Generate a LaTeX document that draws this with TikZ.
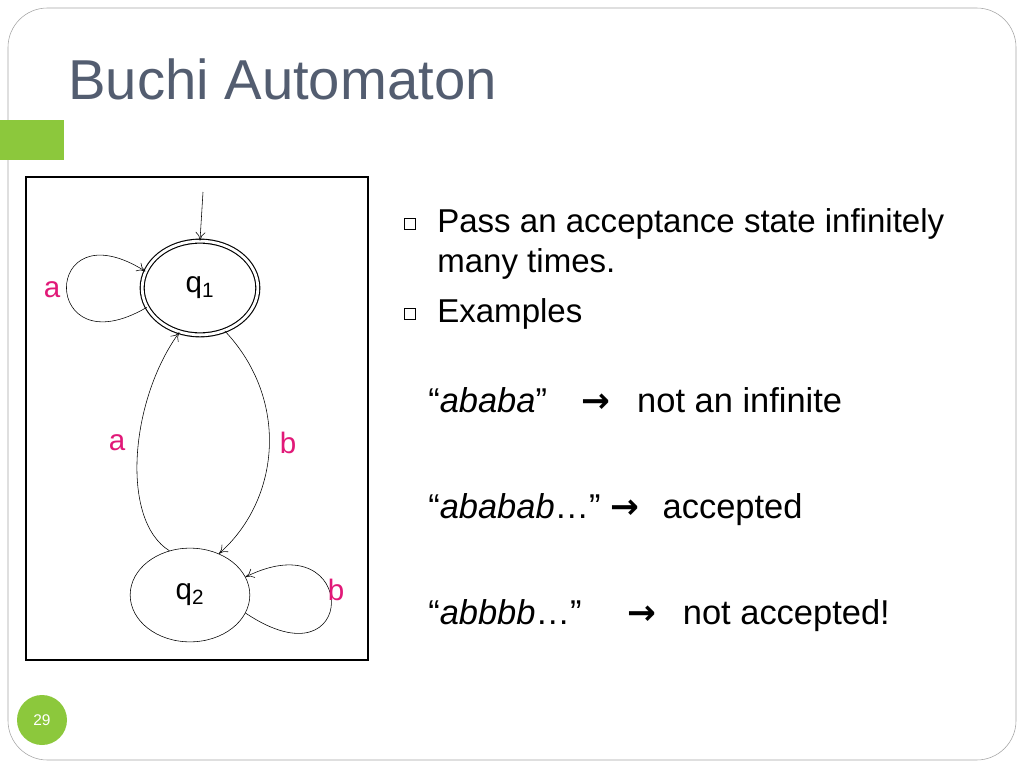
\documentclass[tikz,border=0pt]{standalone}
\usepackage{fontspec}
\setmainfont{Liberation Sans}
\newfontfamily\symf{DejaVu Sans}
\usetikzlibrary{arrows.meta,shapes.geometric}
\definecolor{ttl}{RGB}{83,93,112}
\definecolor{grn}{RGB}{140,200,60}
\definecolor{pnk}{RGB}{225,25,120}
\newlength\pgfmultx \pgfmultx=0.709pt
\newlength\pgfmulty \pgfmulty=0.709pt
\tikzset{
 st/.style={draw,ellipse,minimum width=116\pgfmultx,minimum height=94\pgfmulty,font=\fontsize{21}{21}\selectfont},
 lbl/.style={text=pnk,font=\fontsize{21}{21}\selectfont},
 edge/.style={-{To[length=6pt,width=7pt]},thin},
 txt/.style={anchor=base west,inner sep=0,font=\fontsize{23.5}{26}\selectfont},
 bul/.style={draw,minimum size=8pt,inner sep=0pt,thin}
}
\begin{document}
\begin{tikzpicture}[x=0.025cm,y=-0.025cm]
\useasboundingbox (0,0) rectangle (1024,768);
\fill[white] (0,0) rectangle (1024,768);
\draw[gray!70,rounded corners=28] (8,8) rectangle (1016,760);
\node[anchor=base west,text=ttl,font=\fontsize{40}{40}\selectfont,inner sep=0] (title) at (68,100) {Buchi Automaton};
\fill[grn] (0,120) rectangle (64,160);
\draw[thick] (26,177) rectangle (368,660);
\node[st,double,double distance=2pt,thick,draw=black] (q1) at (200,288) {q\textsubscript{1}};
\node[st,minimum width=120\pgfmultx] (q2) at (190,595) {q\textsubscript{2}};
\coordinate (init) at (203,192);
\draw[edge] (init) -- (q1.north);
\draw[edge] (q1.200) .. controls (40,370) and (40,205) .. (q1.163);
\draw[edge] (q1.300) .. controls (290,400) and (280,500) .. (q2.55);
\draw[edge] (q2.115) .. controls (120,520) and (130,400) .. (q1.245);
\draw[edge] (q2.-18) .. controls (360,690) and (360,520) .. (q2.18);
\node[lbl] (la1) at (52,290) {a};
\node[lbl] (la2) at (117,443) {a};
\node[lbl] (lb1) at (288,443) {b};
\node[lbl] (lb2) at (336,590) {b};
\node[bul] (b1) at (410,224) {};
\node[bul] (b2) at (410,314) {};
\node[txt] (t1) at (437,232) {Pass an acceptance state infinitely};
\node[txt] (t2) at (437,272) {many times.};
\node[txt] (t3) at (437,322) {Examples};
\node[txt] (e1) at (428,412) {\fontsize{24.5}{26}\selectfont “\textit{ababa}” \hspace{18pt}{\symf\bfseries →}\hspace{12pt} not an infinite};
\node[txt] (e2) at (428,518) {\fontsize{24.5}{26}\selectfont “\textit{ababab}…” {\symf\bfseries →}\hspace{10pt} accepted};
\node[txt] (e3) at (428,624) {\fontsize{24.5}{26}\selectfont “\textit{abbbb}…” \hspace{26pt}{\symf\bfseries →}\hspace{12pt} not accepted!};
\fill[grn] (42,720) circle (25);
\node[text=white,font=\fontsize{11}{11}\selectfont] (pg) at (42,720) {29};
\end{tikzpicture}
\end{document}
